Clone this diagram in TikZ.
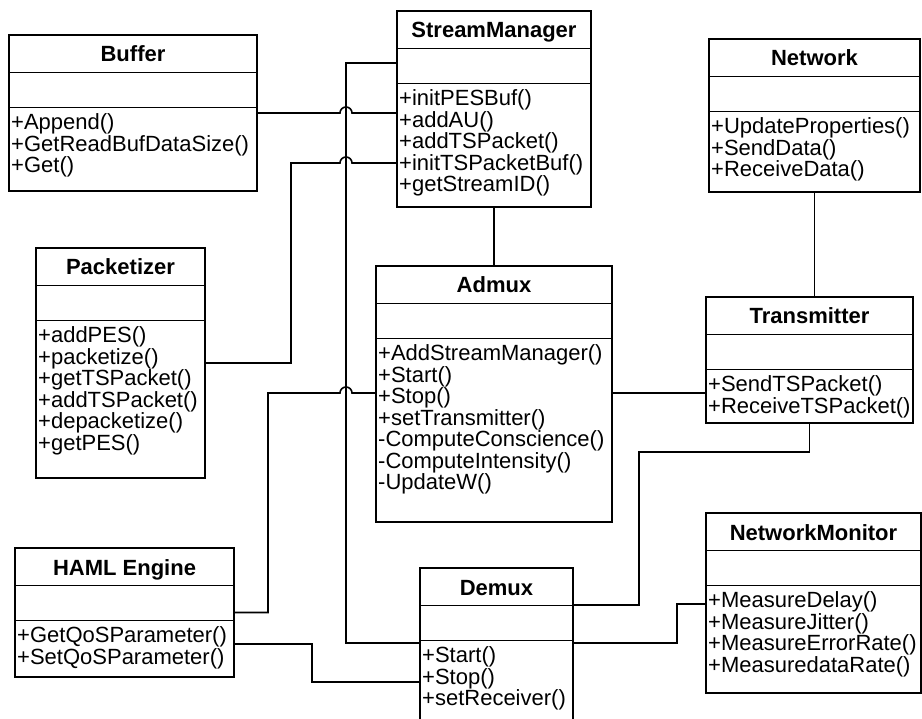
\documentclass[tikz,border=0pt]{standalone}
\usepackage{fontspec}
\setmainfont{Liberation Sans}

\newcommand{\umlclass}[7]{%
  \node[classbox, minimum width=#4pt, minimum height=#5pt] (#1) at (#2,#3) {};
  \draw[divider] ([yshift=-37.5pt]#1.north west) -- ([yshift=-37.5pt]#1.north east);
  \draw[divider] ([yshift=-72.5pt]#1.north west) -- ([yshift=-72.5pt]#1.north east);
  \node[classname] (#1-name) at ([yshift=-27pt]#1.north) {#6};
  \node[operations] (#1-ops) at ([yshift=-72.5pt]#1.north west) {#7};
}

\begin{document}
\begin{tikzpicture}[x=1pt, y=1pt,
          classbox/.style={draw, line width=2.2pt, outer sep=0pt, inner sep=0pt, anchor=north west},
          divider/.style={line width=1.6pt},
          classname/.style={anchor=base, inner sep=0pt, font=\fontsize{22}{22}\selectfont\bfseries},
          operations/.style={anchor=north west, align=left, inner xsep=2pt, inner ysep=6pt,
                             font=\fontsize{22}{21.5}\selectfont},
          link/.style={line width=1.6pt},
        ]
        \useasboundingbox (0,0) rectangle (922,-719);

        \umlclass{buffer}{9}{-35}{248}{156}{Buffer}{+Append()\\+GetReadBufDataSize()\\+Get()}
        \umlclass{sm}{397}{-11}{194}{196}{StreamManager}{+initPESBuf()\\+addAU()\\+addTSPacket()\\+initTSPacketBuf()\\+getStreamID()}
        \umlclass{network}{709}{-39}{211}{153}{Network}{+UpdateProperties()\\+SendData()\\+ReceiveData()}
        \umlclass{pack}{36}{-248}{169}{230}{Packetizer}{+addPES()\\+packetize()\\+getTSPacket()\\+addTSPacket()\\+depacketize()\\+getPES()}
        \umlclass{admux}{376}{-266}{236}{256}{Admux}{+AddStreamManager()\\+Start()\\+Stop()\\+setTransmitter()\\-ComputeConscience()\\-ComputeIntensity()\\-UpdateW()}
        \umlclass{trans}{706}{-297}{207}{126}{Transmitter}{+SendTSPacket()\\+ReceiveTSPacket()}
        \umlclass{haml}{15}{-548}{219}{129}{HAML Engine}{+GetQoSParameter()\\+SetQoSParameter()}
        \umlclass{demux}{420}{-568}{153}{160}{Demux}{+Start()\\+Stop()\\+setReceiver()}
        \umlclass{monitor}{706}{-513}{215}{180}{NetworkMonitor}{+MeasureDelay()\\+MeasureJitter()\\+MeasureErrorRate()\\+MeasuredataRate()}

        \draw[link] (buffer.east) -- ++(83,0) arc (180:0:6) -- (buffer.east -| sm.west);
        \draw[link] (pack.east) -- ++(86,0) -- ++(0,200) -- ++(49,0) arc (180:0:6) -- ([yshift=-152pt]sm.north west);
        \draw[link] ([yshift=-52pt]sm.north west) -- ++(-51,0) |- ([yshift=-75pt]demux.north west);
        \draw[link] (sm.south) -- (admux.north);
        \draw[link] (network.south) -- (network.south |- trans.north);
        \draw[link] ([yshift=-127pt]admux.north east) -- ([yshift=-96pt]trans.north west);
        \draw[link] (haml.east) -- ++(34,0) -- ++(0,219.5) -- ++(72,0) arc (180:0:6) -- ([yshift=-127pt]admux.north west);
        \draw[link] (trans.south) -- ++(0,-29) -- ++(-170.5,0) |- ([yshift=-37pt]demux.north east);
        \draw[link] ([yshift=-75pt]demux.north east) -- ++(104,0) |- ([yshift=-91pt]monitor.north west);
        \draw[link] ([yshift=-96pt]haml.north east) -- ++(78,0) |- ([yshift=-114pt]demux.north west);
      \end{tikzpicture}
\end{document}
